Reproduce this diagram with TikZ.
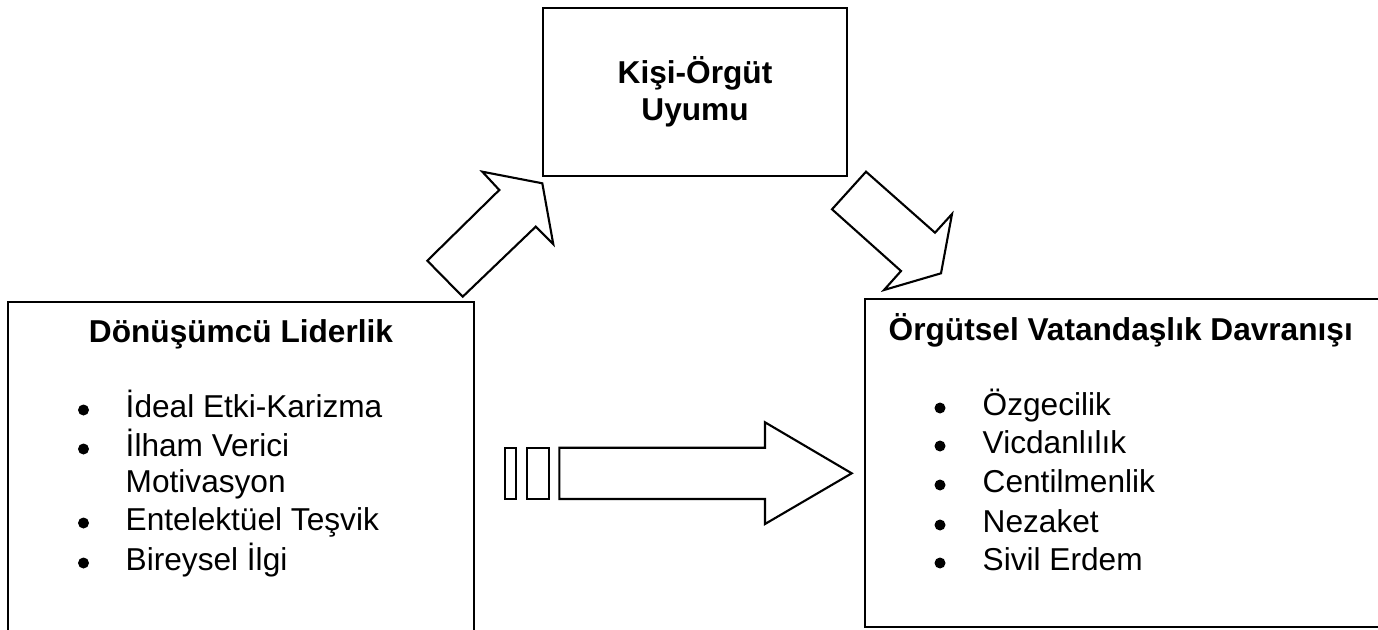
\documentclass[tikz,border=0pt]{standalone}
\usepackage{fontspec}
\setmainfont{Liberation Sans}

\begin{document}
\begin{tikzpicture}[
		cizgi/.style={line width=0.6pt, line join=miter},
		baslik/.style={font=\fontsize{9}{11}\selectfont\bfseries, inner sep=0pt},
		madde/.style={font=\fontsize{9}{11}\selectfont, inner sep=0pt, anchor=base west}]

		\useasboundingbox (0,0) rectangle (13.78,6.29);
		\clip (0,0) rectangle (13.78,6.29);

		% Kişi-Örgüt Uyumu kutusu
		\draw[cizgi] (5.43,4.53) rectangle (8.47,6.21);
		\node[baslik, anchor=base] (uyum1) at (6.95,5.45) {Kişi-Örgüt};
		\node[baslik, anchor=base] (uyum2) at (6.95,5.08) {Uyumu};

		% Dönüşümcü Liderlik kutusu
		\draw[cizgi] (0.08,-0.2) rectangle (4.74,3.27);
		\node[baslik, anchor=base] (lider) at (2.41,2.87) {Dönüşümcü Liderlik};
		\node[madde] (l1) at (1.25,2.12) {İdeal Etki-Karizma};
		\node[madde] (l2) at (1.25,1.73) {İlham Verici};
		\node[madde] (l3) at (1.25,1.37) {Motivasyon};
		\node[madde] (l4) at (1.25,0.99) {Entelektüel Teşvik};
		\node[madde] (l5) at (1.25,0.59) {Bireysel İlgi};
		\foreach \y in {2.12,1.73,0.99,0.59}
			\fill (0.835,\y+0.07) circle (0.055);

		% Örgütsel Vatandaşlık Davranışı kutusu
		\draw[cizgi] (8.65,0.02) rectangle (14.2,3.30);
		\node[baslik, anchor=base west] (ovd) at (8.88,2.89) {Örgütsel Vatandaşlık Davranışı};
		\node[madde] (r1) at (9.82,2.14) {Özgecilik};
		\node[madde] (r2) at (9.82,1.76) {Vicdanlılık};
		\node[madde] (r3) at (9.82,1.37) {Centilmenlik};
		\node[madde] (r4) at (9.82,0.97) {Nezaket};
		\node[madde] (r5) at (9.82,0.59) {Sivil Erdem};
		\foreach \y in {2.14,1.76,1.37,0.97,0.59}
			\fill (9.40,\y+0.07) circle (0.055);

		% Liderlik -> uyum oku
		\draw[cizgi] (4.627,3.323) -- (4.273,3.683) -- (4.993,4.39)
		-- (4.823,4.573) -- (5.423,4.457) -- (5.533,3.847)
		-- (5.357,4.023) -- cycle;

		% Uyum -> davranış oku
		\draw[cizgi] (8.66,4.573) -- (8.32,4.197) -- (9.01,3.58)
		-- (8.84,3.39) -- (9.41,3.557) -- (9.52,4.15)
		-- (9.35,3.963) -- cycle;

		% Doğrudan etki oku
		\draw[cizgi] (5.05,1.30) rectangle (5.16,1.813);
		\draw[cizgi] (5.267,1.30) rectangle (5.49,1.813);
		\draw[cizgi] (5.593,1.813) -- (7.65,1.813) -- (7.65,2.067)
		-- (8.517,1.557) -- (7.65,1.05) -- (7.65,1.30)
		-- (5.593,1.30) -- cycle;

	\end{tikzpicture}
\end{document}
